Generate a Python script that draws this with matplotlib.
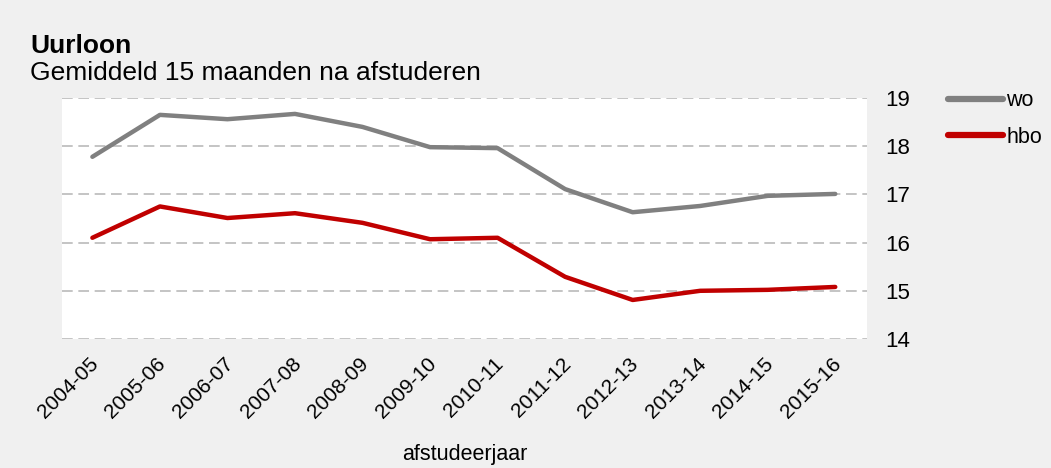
import matplotlib
matplotlib.use("Agg")
import matplotlib.pyplot as plt
from matplotlib.lines import Line2D
from matplotlib.transforms import ScaledTranslation

years = ["2004-05", "2005-06", "2006-07", "2007-08", "2008-09", "2009-10",
         "2010-11", "2011-12", "2012-13", "2013-14", "2014-15", "2015-16"]
wo = [17.78, 18.65, 18.56, 18.67, 18.40, 17.98, 17.96, 17.11, 16.63, 16.76, 16.97, 17.01]
hbo = [16.10, 16.75, 16.51, 16.61, 16.41, 16.07, 16.10, 15.29, 14.81, 15.00, 15.02, 15.08]
yticks = [14, 15, 16, 17, 18, 19]

plt.rcParams['font.family'] = ['Liberation Sans', 'DejaVu Sans']

W, H = 1051, 468
fig = plt.figure(figsize=(W / 100, H / 100), dpi=100, facecolor='#F0F0F0')
ax = fig.add_axes([62 / W, 1 - 339 / H, (867 - 62) / W, (339 - 98) / H])
ax.set_facecolor('white')

x = list(range(len(years)))
ax.plot(x, wo, color='#808080', lw=3.2, label='wo', solid_capstyle='round')
ax.plot(x, hbo, color='#C00000', lw=3.2, label='hbo', solid_capstyle='round')

ax.set_xlim(-0.45, 11.47)
ax.set_ylim(14, 19)
ax.set_yticks(yticks)
ax.yaxis.tick_right()
ax.tick_params(axis='y', length=0, pad=13, labelsize=16)
ax.set_xticks(x)
ax.set_xticklabels(years, rotation=45, ha='right', va='center', rotation_mode='anchor', fontsize=15)
ax.tick_params(axis='x', length=0, pad=16)
shift = ScaledTranslation(3 / 100, 0, fig.dpi_scale_trans)
for lab in ax.get_xticklabels():
    lab.set_transform(lab.get_transform() + shift)
for s in ax.spines.values():
    s.set_visible(False)
ax.grid(axis='y', color='#C4C4C4', linestyle=(0, (5.5, 2.9)), lw=1.4)
ax.set_axisbelow(True)

ax.set_xlabel('afstudeerjaar', fontsize=15.5, labelpad=15.5)

fig.text(30 / W, 1 - 53 / H, 'Uurloon', fontsize=19, fontweight='bold', ha='left', va='baseline')
fig.text(30 / W, 1 - 80 / H, 'Gemiddeld 15 maanden na afstuderen', fontsize=19, ha='left', va='baseline')

handles = [Line2D([], [], color='#808080', lw=4.5, solid_capstyle='round'),
           Line2D([], [], color='#C00000', lw=4.5, solid_capstyle='round')]
fig.legend(handles, ['wo', 'hbo'], loc='upper left', bbox_to_anchor=(929 / W, 1 - 71 / H),
           frameon=False, fontsize=15.5, handlelength=2.56, handletextpad=0.14, labelspacing=0.72)

fig.savefig('out.png', dpi=100, facecolor=fig.get_facecolor())
